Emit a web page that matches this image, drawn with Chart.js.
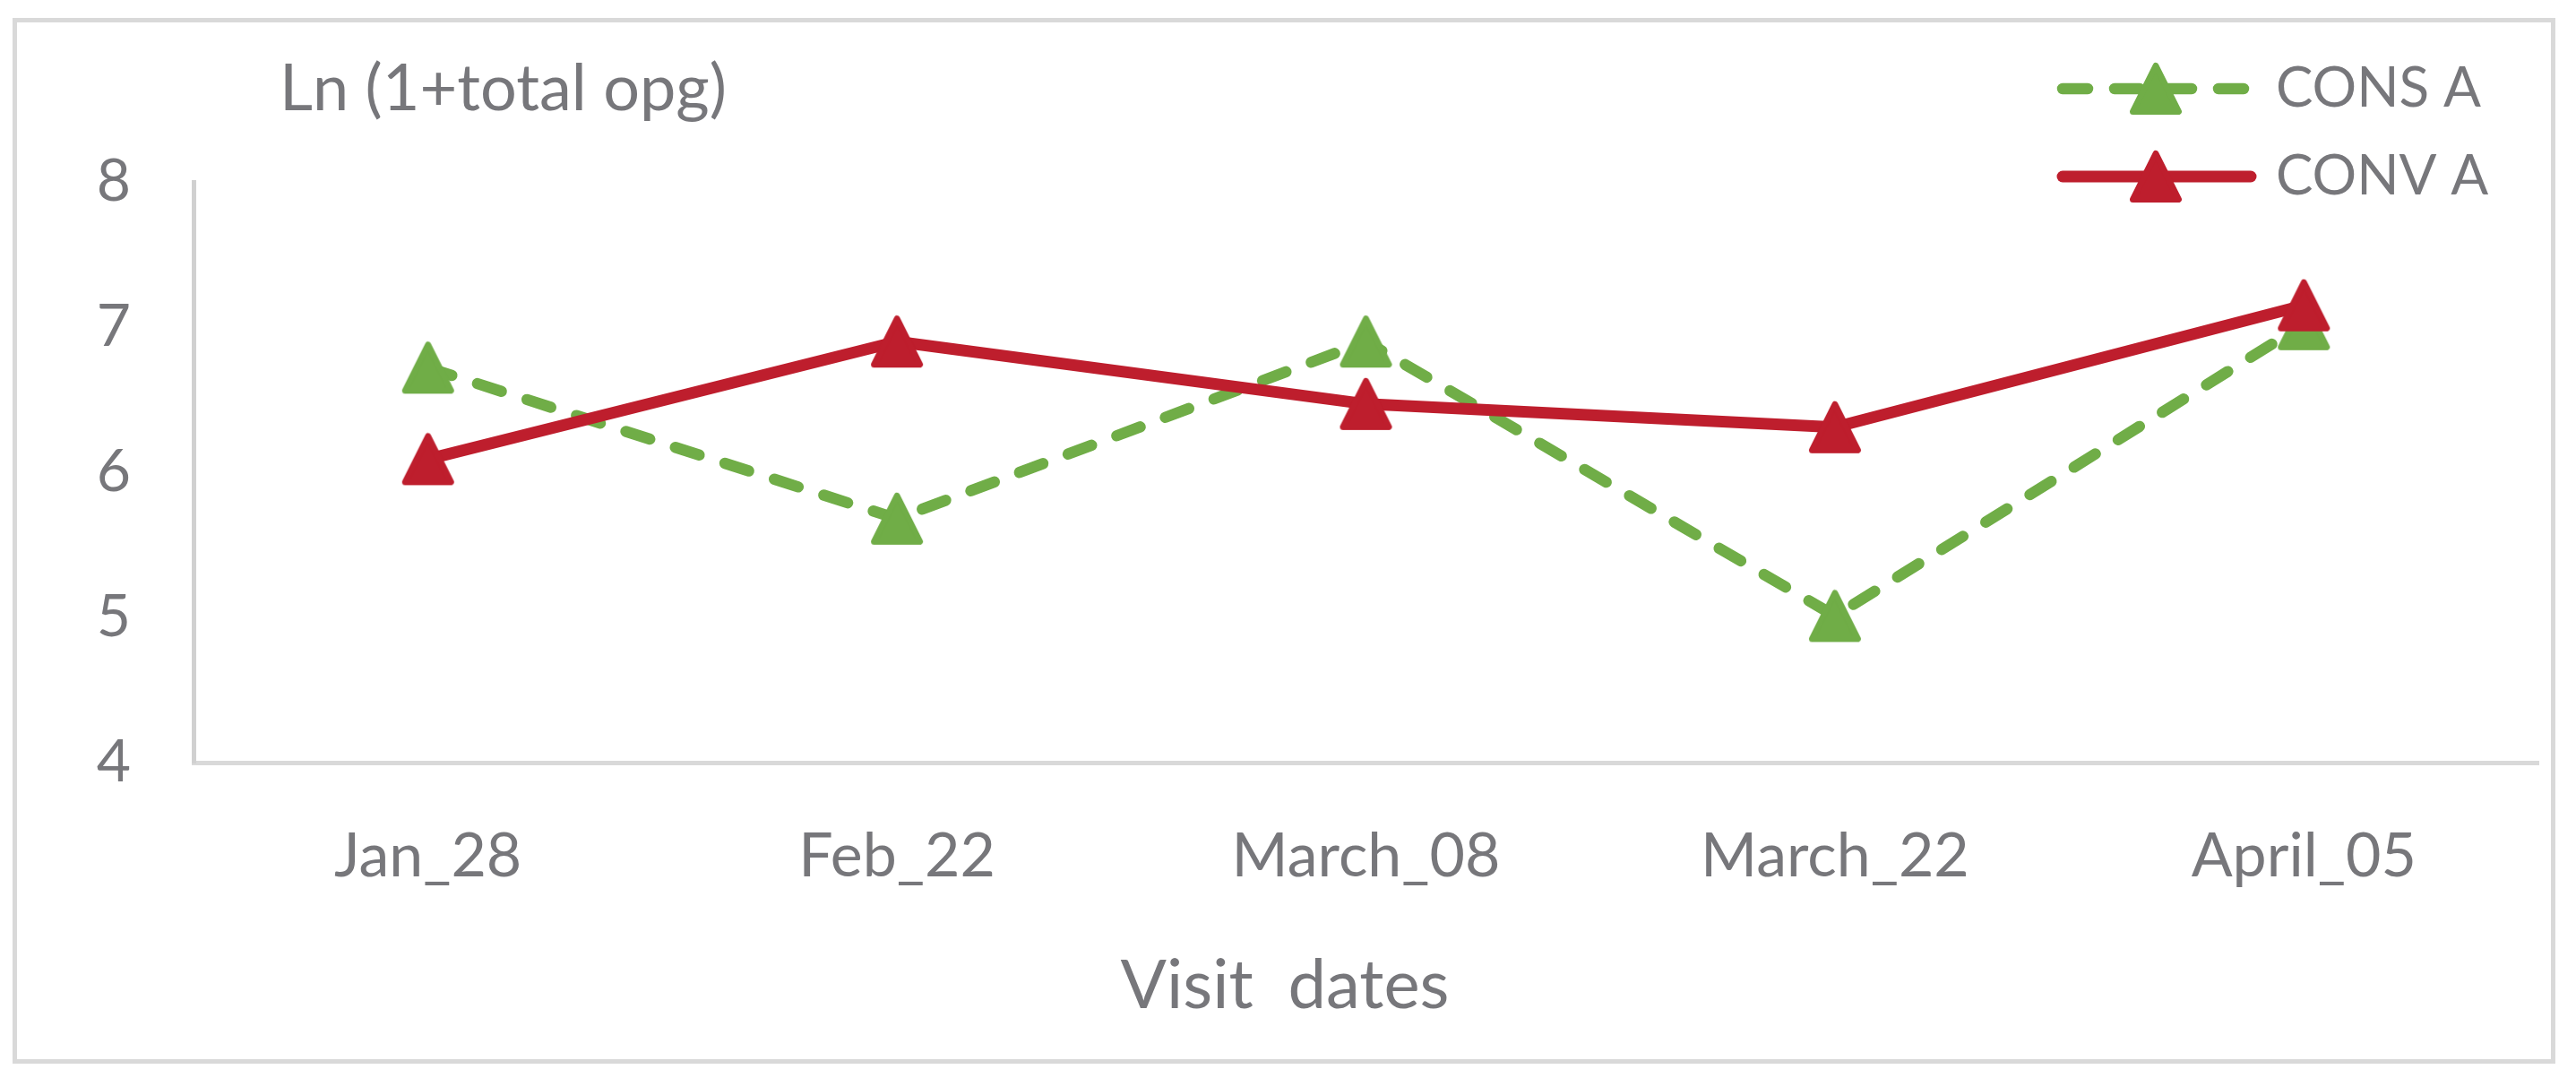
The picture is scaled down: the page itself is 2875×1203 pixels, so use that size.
<!DOCTYPE html>
<html>
<head>
<meta charset="utf-8">
<script src="https://cdn.jsdelivr.net/npm/chart.js@4.4.1/dist/chart.umd.min.js"></script>
<style>
    html, body { margin: 0; padding: 0; background: #fff; }
    #wrap { position: relative; width: 2875px; height: 1203px; }
    #frame {
        position: absolute; left: 14px; top: 20px;
        width: 2838px; height: 1167px;
        border: 5px solid #d9d9d9; box-sizing: border-box;
    }
    #chart { position: absolute; left: 0; top: 0; }
</style>
</head>
<body>
<div id="wrap">
    <div id="frame"></div>
    <canvas id="chart" width="2875" height="1203"></canvas>
</div>
<script>
// Chart data
const visitDates = ['Jan_28', 'Feb_22', 'March_08', 'March_22', 'April_05'];
const consA = [6.72, 5.68, 6.90, 5.01, 7.02];
const convA = [6.09, 6.90, 6.47, 6.31, 7.15];
const seriesNames = ['CONS A', 'CONV A'];
const yMin = 4;
const yMax = 8;
const yStep = 1;
const yTitle = 'Ln (1+total opg)';
const xTitle = 'Visit  dates';

const FONT = "Lato, 'Open Sans', sans-serif";
const TEXT = '#77777b';
const GREEN = '#70ad47';
const RED = '#be1e2d';

// Rounded triangle marker, like the Excel one
function makeTriangle(color) {
    const c = document.createElement('canvas');
    c.width = 60;
    c.height = 60;
    const g = c.getContext('2d');
    g.fillStyle = color;
    g.strokeStyle = color;
    g.lineWidth = 7;
    g.lineJoin = 'round';
    g.beginPath();
    g.moveTo(30, 4.5);
    g.lineTo(55.5, 55.5);
    g.lineTo(4.5, 55.5);
    g.closePath();
    g.fill();
    g.stroke();
    return c;
}

const greenTri = makeTriangle(GREEN);
const redTri = makeTriangle(RED);

// Titles (not centred on the plot in the original) and a line+marker legend
const decorPlugin = {
    id: 'decor',
    beforeDatasetsDraw(chart) {
        chart.ctx.lineJoin = 'round';
    },
    afterDraw(chart) {
        const ctx = chart.ctx;
        ctx.save();
        ctx.fillStyle = TEXT;
        ctx.textBaseline = 'middle';
        ctx.textAlign = 'left';
        ctx.font = `72px ${FONT}`;
        ctx.fillText(yTitle, 312, 100);

        ctx.textAlign = 'center';
        ctx.font = `76px ${FONT}`;
        ctx.fillText(xTitle, 1434, 1100);

        ctx.textAlign = 'left';
        const rows = [chart.data.datasets[0], chart.data.datasets[1]];
        const rowY = [99, 197];
        rows.forEach((ds, i) => {
            const y = rowY[i];
            ctx.save();
            ctx.strokeStyle = ds.borderColor;
            ctx.lineWidth = ds.borderWidth;
            ctx.lineCap = 'round';
            ctx.setLineDash(ds.borderDash || []);
            ctx.beginPath();
            ctx.moveTo(2302, y);
            ctx.lineTo(2512, y);
            ctx.stroke();
            ctx.restore();
            const img = ds.pointStyle;
            ctx.drawImage(img, 2406 - img.width / 2, y - img.height / 2);
            ctx.fillStyle = TEXT;
            ctx.font = `62px ${FONT}`;
            ctx.fillText(ds.label, 2540, y);
        });
        ctx.restore();
    }
};

const ctx = document.getElementById('chart').getContext('2d');
new Chart(ctx, {
    type: 'line',
    data: {
        labels: visitDates,
        datasets: [{
            label: seriesNames[0],
            data: consA,
            order: 1,
            borderColor: GREEN,
            backgroundColor: GREEN,
            borderWidth: 12.5,
            borderDash: [28, 30],
            borderCapStyle: 'round',
            borderJoinStyle: 'round',
            tension: 0,
            pointStyle: greenTri,
            pointRadius: 29,
        }, {
            label: seriesNames[1],
            data: convA,
            order: 0,
            borderColor: RED,
            backgroundColor: RED,
            borderWidth: 13,
            borderCapStyle: 'round',
            borderJoinStyle: 'round',
            tension: 0,
            pointStyle: redTri,
            pointRadius: 29,
        }]
    },
    options: {
        responsive: false,
        animation: false,
        layout: {
            padding: { top: 203, left: 16, right: 29, bottom: 20 }
        },
        plugins: {
            legend: { display: false },
            tooltip: { enabled: false },
            title: { display: false }
        },
        scales: {
            x: {
                offset: true,
                grid: { display: false, drawTicks: false },
                border: { display: true, color: '#d9d9d9', width: 5 },
                ticks: {
                    color: TEXT,
                    padding: 64,
                    font: { family: FONT, size: 68 }
                },
                afterFit(scale) { scale.height = 332; }
            },
            y: {
                min: yMin,
                max: yMax,
                grid: { display: false, drawTicks: false },
                border: { display: true, color: '#d0d0d0', width: 5 },
                ticks: {
                    stepSize: yStep,
                    color: TEXT,
                    padding: 70,
                    font: { family: FONT, size: 66 }
                },
                afterFit(scale) { scale.width = 200; }
            }
        }
    },
    plugins: [decorPlugin]
});
</script>
</body>
</html>
